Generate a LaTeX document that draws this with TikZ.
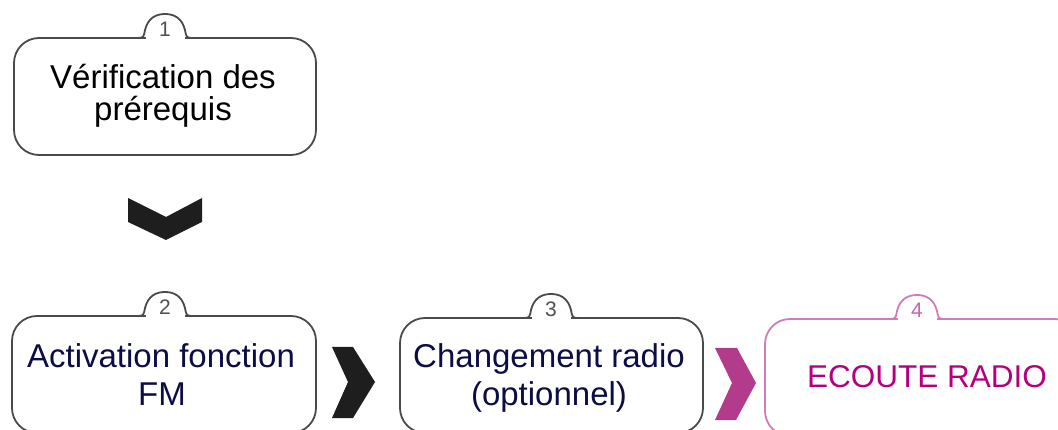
\documentclass[tikz,border=0pt]{standalone}
\usepackage{fontspec}
\setmainfont{Liberation Sans}
\definecolor{boxgrey}{HTML}{4A4A4A}
\definecolor{digitgrey}{HTML}{505050}
\definecolor{navy}{HTML}{0D0D45}
\definecolor{mag}{HTML}{B4007E}
\definecolor{magline}{HTML}{CF7DB8}
\definecolor{magchev}{HTML}{B23C8B}
\definecolor{darkchev}{HTML}{1E1E1E}
\newcommand{\tabbox}[6]{%
  % #1 L, #2 T, #3 R, #4 B, #5 tab centre, #6 colour
  \draw[#6, line width=1.8pt, rounded corners=25pt] (#1,#4) rectangle (#3,#2);
  \fill[white] ({#5-19.5},{#2-2}) rectangle ({#5+19.5},{#2+1.1});
  \draw[#6, line width=1.8pt] ({#5-26},#2) .. controls ({#5-21},#2) and ({#5-21},{#2-3}) .. ({#5-20},{#2-8})
     .. controls ({#5-17},{#2-20}) and ({#5-9},{#2-24}) .. (#5,{#2-24})
     .. controls ({#5+9},{#2-24}) and ({#5+17},{#2-20}) .. ({#5+20},{#2-8})
     .. controls ({#5+21},{#2-3}) and ({#5+21},#2) .. ({#5+26},#2);
}
\begin{document}
\begin{tikzpicture}[x=1pt,y=-1pt,
  txt/.style={anchor=base, inner sep=0pt, font=\fontsize{33}{35}\selectfont},
  digit/.style={anchor=base, inner sep=0pt, font=\fontsize{21}{22}\selectfont}]
\useasboundingbox (0,0) rectangle (1058,430);
\clip (0,0) rectangle (1058,430);
\fill[white] (0,0) rectangle (1058,430);
% box 1
\tabbox{14}{38}{316}{155}{165}{boxgrey}
\node[digit, text=digitgrey] (d1) at (165,37) {1};
\node[txt, text=black] (t1a) at (163,89) {Vérification des};
\node[txt, text=black] (t1b) at (163,121) {prérequis};
% box 2
\tabbox{12}{316}{316}{433}{165}{boxgrey}
\node[digit, text=digitgrey] (d2) at (165,315) {2};
\node[txt, text=navy] (t2a) at (161,367) {Activation fonction};
\node[txt, text=navy] (t2b) at (162,405) {FM};
% box 3
\tabbox{400}{318}{703}{433}{551}{boxgrey}
\node[digit, text=digitgrey] (d3) at (551,317) {3};
\node[txt, text=navy] (t3a) at (549,368) {Changement radio};
\node[txt, text=navy] (t3b) at (549,405) {(optionnel)};
% box 4
\tabbox{765}{319}{1080}{436}{917}{magline}
\node[digit, text=magline!80!mag] (d4) at (917,318) {4};
\node[txt, text=mag, font=\fontsize{31.5}{33}\selectfont] (t4) at (927,388) {ECOUTE RADIO};
% chevrons
\fill[darkchev] (128,198) -- (166,217) -- (202,198) -- (202,222) -- (166,240) -- (128,222) -- cycle;
\fill[darkchev] (332,347) -- (353,347) -- (375,382) -- (353,418) -- (332,418) -- (348,382) -- cycle;
\fill[magchev] (715,348) -- (737,348) -- (756,383) -- (736,420) -- (715,420) -- (732,383) -- cycle;
\end{tikzpicture}
\end{document}
